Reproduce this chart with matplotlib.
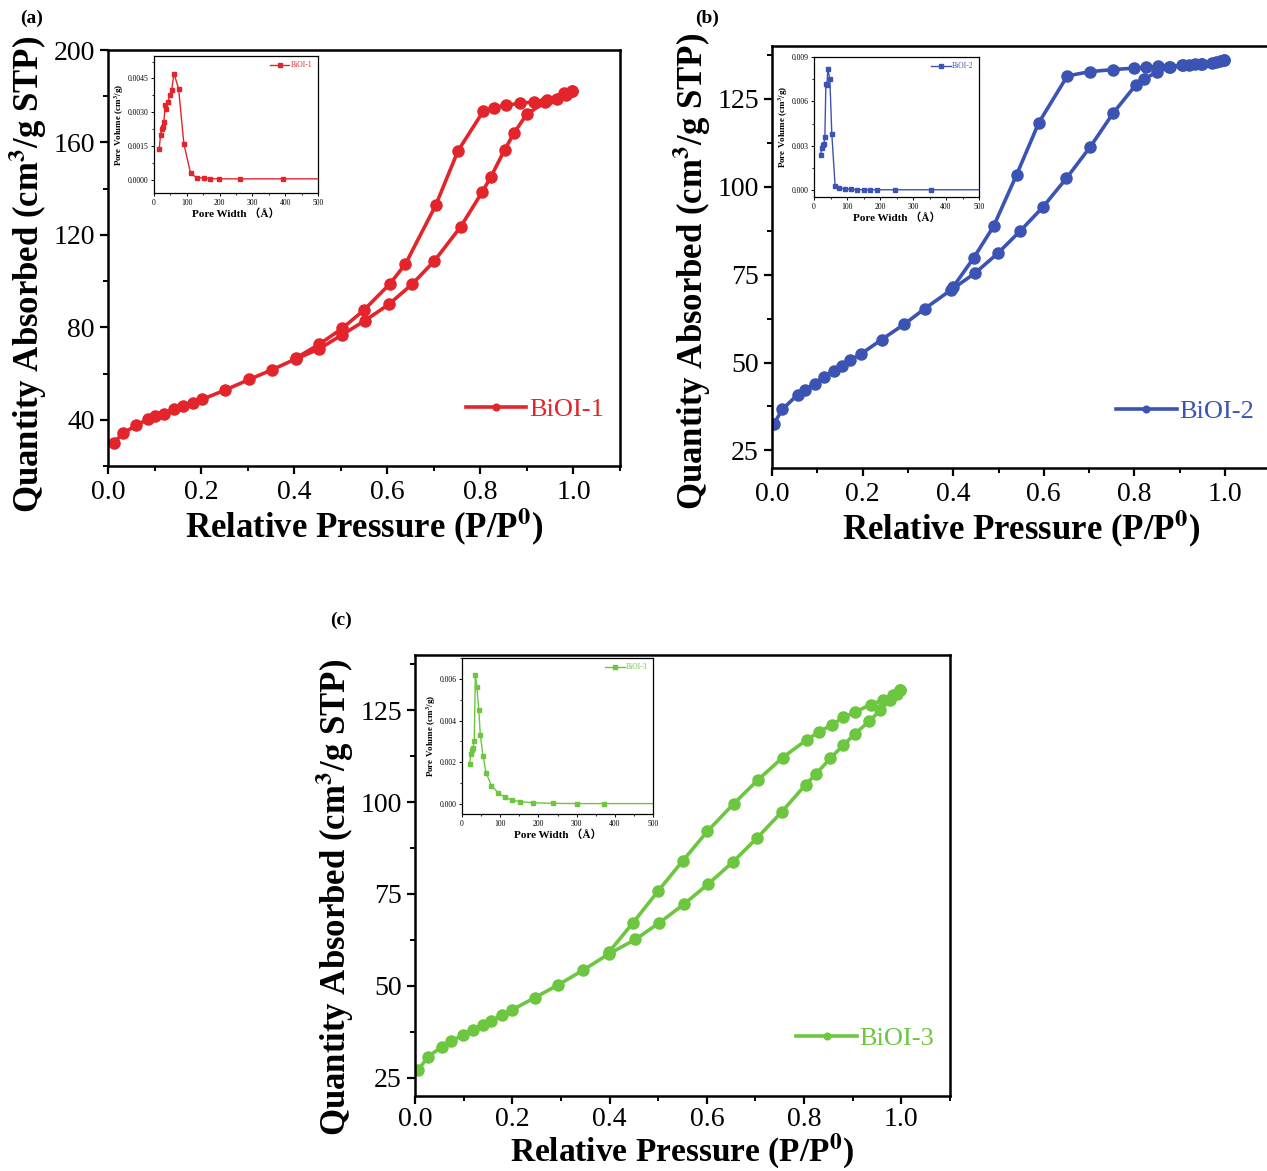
"""
N2 adsorption-desorption isotherms of BiOI samples with pore size distribution insets
"""
import matplotlib
matplotlib.use('Agg')
import matplotlib.pyplot as plt
from matplotlib.ticker import MultipleLocator, AutoMinorLocator

plt.rcParams['font.family'] = ['Liberation Serif', 'Noto Sans CJK SC']
plt.rcParams['mathtext.fontset'] = 'stix'

# ---- BiOI-1 isotherm ----
p1_ads = [0.012, 0.033, 0.061, 0.087, 0.10, 0.12, 0.142, 0.161, 0.182, 0.202,
          0.252, 0.304, 0.352, 0.403, 0.454, 0.503, 0.552, 0.603, 0.653, 0.701,
          0.758, 0.804, 0.823, 0.852, 0.873, 0.90, 0.939, 0.964, 0.983, 0.996]
q1_ads = [30.1, 34.2, 37.7, 40.3, 41.5, 42.7, 44.6, 45.8, 47.3, 48.8,
          52.9, 57.5, 61.6, 66.3, 70.7, 76.8, 82.9, 89.9, 98.6, 108.7,
          123.6, 138.6, 145.2, 156.8, 164.3, 172.3, 177.3, 178.7, 180.7, 182.2]
p1_des = [0.996, 0.979, 0.943, 0.915, 0.885, 0.855, 0.829, 0.806, 0.752,
          0.704, 0.639, 0.606, 0.550, 0.503, 0.454, 0.403]
q1_des = [182.2, 181.4, 178.4, 177.6, 176.9, 176.1, 175.1, 173.4, 156.4,
          132.8, 107.4, 98.9, 87.5, 79.5, 72.7, 66.6]

# ---- BiOI-2 isotherm ----
p2_ads = [0.004, 0.023, 0.057, 0.072, 0.094, 0.114, 0.136, 0.154, 0.173, 0.196,
          0.242, 0.292, 0.337, 0.396, 0.448, 0.498, 0.548, 0.598, 0.650, 0.703,
          0.753, 0.803, 0.821, 0.850, 0.879, 0.908, 0.933, 0.950, 0.971, 0.988, 0.998]
q2_ads = [32.5, 36.7, 40.9, 42.2, 44.0, 45.9, 47.7, 48.9, 50.7, 52.4,
          56.5, 60.9, 65.3, 70.7, 75.4, 81.0, 87.4, 94.2, 102.4, 111.4,
          120.9, 128.9, 130.5, 132.7, 133.9, 134.7, 134.9, 135.0, 135.3, 135.7, 135.9]
p2_des = [0.998, 0.980, 0.946, 0.921, 0.904, 0.877, 0.852, 0.825, 0.800,
          0.752, 0.702, 0.652, 0.589, 0.540, 0.489, 0.445, 0.400]
q2_des = [135.9, 135.5, 134.9, 134.7, 134.5, 134.1, 134.2, 133.9, 133.7,
          133.3, 132.7, 131.5, 118.2, 103.4, 88.7, 79.7, 71.5]

# ---- BiOI-3 isotherm ----
p3_ads = [0.006, 0.027, 0.055, 0.075, 0.098, 0.119, 0.139, 0.156, 0.178, 0.199,
          0.247, 0.294, 0.345, 0.399, 0.453, 0.502, 0.553, 0.603, 0.653, 0.704,
          0.754, 0.803, 0.825, 0.854, 0.880, 0.905, 0.934, 0.957, 0.977, 0.991, 0.998]
q3_ads = [27.0, 30.7, 33.4, 34.9, 36.6, 37.9, 39.4, 40.4, 42.0, 43.4,
          46.8, 50.2, 54.2, 58.7, 62.6, 67.1, 72.2, 77.7, 83.6, 90.3,
          97.3, 104.7, 107.7, 111.9, 115.4, 118.6, 122.0, 125.0, 127.8, 129.5, 130.4]
p3_des = [0.998, 0.982, 0.962, 0.937, 0.905, 0.881, 0.857, 0.831, 0.805,
          0.756, 0.705, 0.655, 0.601, 0.550, 0.500, 0.448, 0.399]
q3_des = [130.4, 129.0, 127.8, 126.5, 124.5, 123.0, 121.0, 119.1, 116.9,
          112.1, 106.0, 99.5, 92.0, 83.9, 75.8, 67.1, 59.2]

# ---- pore size distributions (BJH) ----
w1 = [16, 20, 24, 28, 30, 34.5, 36.5, 42.6, 48.7, 53.8, 60.9, 75, 91, 111.6,
      130, 152, 172, 197, 262, 393, 520]
v1 = [0.00138, 0.00198, 0.00227, 0.00235, 0.00257, 0.00331, 0.00316, 0.00346,
      0.00376, 0.00398, 0.00472, 0.00404, 0.0016, 0.00027, 0.00009, 0.00006,
      0.00004, 0.00003, 0.00003, 0.00003, 0.00003]
w2 = [20, 24, 27, 30, 33, 36, 39, 42, 48, 54, 64, 77, 93, 113, 131, 153, 169,
      190, 244, 355, 520]
v2 = [0.00237, 0.00286, 0.00305, 0.00309, 0.0036, 0.0072, 0.0071, 0.0082,
      0.0075, 0.0038, 0.00027, 0.00014, 0.00007, 0.00005, 0.00002, 0.00002,
      0.00002, 0.00002, 0.00002, 0.00002, 0.00002]
w3 = [20, 23, 26, 29, 32, 35, 39, 44, 48, 55, 63, 77, 95, 112, 130, 152, 187,
      239, 300, 372, 520]
v3 = [0.0019, 0.0024, 0.0026, 0.0027, 0.0030, 0.0062, 0.0056, 0.0045, 0.0033,
      0.0023, 0.0015, 0.00088, 0.00053, 0.00032, 0.00019, 0.00011, 0.00006,
      0.00003, 0.00002, 0.00002, 0.00002]

W, H = 1267, 1171


def px_rect(x0, y0, x1, y1):
    """pixel box (top-left origin) -> figure fraction rect"""
    return [x0 / W, 1 - y1 / H, (x1 - x0) / W, (y1 - y0) / H]


def draw_isotherm(ax, p_ads, q_ads, p_des, q_des, color, label, ylim, ystep,
                  ylab_y=0.47, xpad=0, xfs=25, tpad=4):
    ax.plot(p_ads, q_ads, '-o', color=color, lw=2.6, ms=8, label=label)
    ax.plot(p_des, q_des, '-o', color=color, lw=2.6, ms=8)
    ax.set_xlim(0, 1.1)
    ax.set_ylim(*ylim)
    ax.xaxis.set_minor_locator(MultipleLocator(0.1))
    ax.yaxis.set_major_locator(MultipleLocator(ystep))
    ax.yaxis.set_minor_locator(MultipleLocator(ystep / 2))
    ax.set_xticks([0, 0.2, 0.4, 0.6, 0.8, 1.0])
    ax.set_xticklabels(['0.0', '0.2', '0.4', '0.6', '0.8', '1.0'])
    ax.tick_params(which='major', direction='out', length=6, width=1.6,
                   labelsize=20)
    ax.tick_params(axis='x', pad=tpad)
    ax.tick_params(which='minor', direction='out', length=3.5, width=1.4)
    for s in ax.spines.values():
        s.set_linewidth(1.8)
    ax.set_xlabel('Relative Pressure (P/P$^\\mathbf{0}$)', fontsize=xfs,
                  fontweight='bold', labelpad=xpad)
    ax.set_ylabel('Quantity Absorbed (cm$^\\mathbf{3}$/g STP)', fontsize=25,
                  fontweight='bold', labelpad=3)
    ax.yaxis.label.set_y(ylab_y)
    leg = ax.legend(loc='lower right', bbox_to_anchor=(1.015, 0.05),
                    frameon=False, fontsize=19, handlelength=2.3,
                    handletextpad=0.1, markerscale=0.6)
    for t in leg.get_texts():
        t.set_color(color)


def draw_psd(ax, w, v, color, label, ylim, yticks, yfmt):
    ax.plot(w, v, '-s', color=color, lw=1.0, ms=2.2, label=label)
    ax.set_xlim(0, 500)
    ax.set_ylim(*ylim)
    ax.set_xticks([0, 100, 200, 300, 400, 500])
    ax.xaxis.set_minor_locator(AutoMinorLocator(2))
    ax.set_yticks(yticks)
    ax.set_yticklabels([yfmt.format(t) for t in yticks])
    ax.yaxis.set_minor_locator(AutoMinorLocator(2))
    ax.tick_params(which='major', direction='out', length=2.5, width=0.7,
                   labelsize=5.5, pad=1.5)
    ax.tick_params(which='minor', direction='out', length=1.5, width=0.6)
    for s in ax.spines.values():
        s.set_linewidth(0.9)
    ax.set_xlabel('Pore Width （Å）', fontsize=8, fontweight='bold',
                  labelpad=1)
    ax.set_ylabel('Pore Volume (cm$^\\mathbf{3}$/g)', fontsize=6.5,
                  fontweight='bold', labelpad=1)
    leg = ax.legend(loc='upper right', frameon=False, fontsize=5.5,
                    handlelength=2.5, handletextpad=0.2, borderaxespad=0.3)
    for t in leg.get_texts():
        t.set_color(color)


fig = plt.figure(figsize=(W / 100, H / 100), dpi=100)

red, blue, green = '#E3242B', '#3B53B2', '#6CC640'

# (a)
ax_a = fig.add_axes(px_rect(108, 50, 620, 466))
draw_isotherm(ax_a, p1_ads, q1_ads, p1_des, q1_des, red, 'BiOI-1', (20, 200), 40,
              ylab_y=0.46)
in_a = fig.add_axes(px_rect(154, 56, 318, 193))
draw_psd(in_a, w1, v1, red, 'BiOI-1', (-0.0006, 0.0055),
         [0.0, 0.0015, 0.0030, 0.0045], '{:.4f}')
fig.text(20 / W, 1 - 18 / H, '(a)', fontsize=14, fontweight='bold', va='center')

# (b)
ax_b = fig.add_axes(px_rect(772, 46, 772 + 1.1 * 453, 468))
draw_isotherm(ax_b, p2_ads, q2_ads, p2_des, q2_des, blue, 'BiOI-2', (20, 140), 25,
              ylab_y=0.465)
in_b = fig.add_axes(px_rect(814, 57, 979, 197))
draw_psd(in_b, w2, v2, blue, 'BiOI-2', (-0.00047, 0.009),
         [0.0, 0.003, 0.006, 0.009], '{:.3f}')
fig.text(695 / W, 1 - 18 / H, '(b)', fontsize=14, fontweight='bold', va='center')

# (c)
ax_c = fig.add_axes(px_rect(415, 655, 950, 1096))
draw_isotherm(ax_c, p3_ads, q3_ads, p3_des, q3_des, green, 'BiOI-3', (20, 140), 25,
              ylab_y=0.45, xpad=0, xfs=24, tpad=2)
in_c = fig.add_axes(px_rect(462, 658, 653, 814))
draw_psd(in_c, w3, v3, green, 'BiOI-3', (-0.00048, 0.007),
         [0.0, 0.002, 0.004, 0.006], '{:.3f}')
fig.text(330 / W, 1 - 620 / H, '(c)', fontsize=14, fontweight='bold', va='center')

plt.savefig('out.png', dpi=100)
